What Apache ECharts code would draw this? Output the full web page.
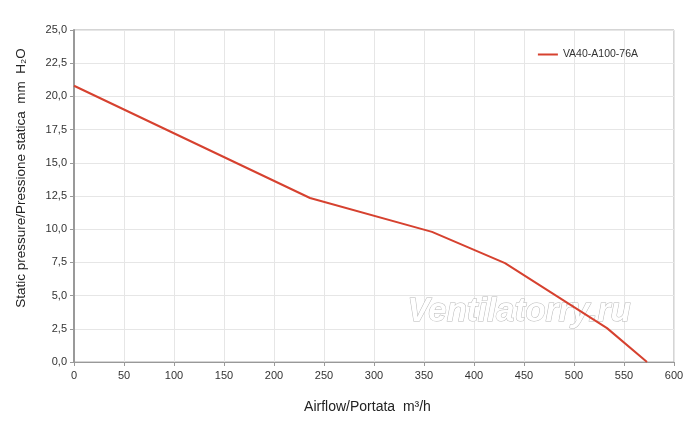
<!DOCTYPE html>
<html><head><meta charset="utf-8">
<script src="https://cdn.jsdelivr.net/npm/echarts@6/dist/echarts.min.js"></script>
<style>html,body{margin:0;padding:0;background:#fff}#c{width:700px;height:427px}</style>
</head><body><div id="c"></div>
<script>
const seriesName = 'VA40-A100-76A';
const airflow = [0, 236, 358, 431, 533, 573];
const pressure = [20.8, 12.35, 9.8, 7.45, 2.55, 0];
const xTicks = [0, 50, 100, 150, 200, 250, 300, 350, 400, 450, 500, 550, 600];
const yTicks = [0, 2.5, 5, 7.5, 10, 12.5, 15, 17.5, 20, 22.5, 25];
const xTitle = 'Airflow/Portata  m³/h';
const yTitle = 'Static pressure/Pressione statica  mm  H₂O';
const watermark = 'Ventilatorry.ru';

const chart = echarts.init(document.getElementById('c'), null, {renderer: 'canvas'});
const font = 'Liberation Sans, Arial, sans-serif';
chart.setOption({
  animation: false,
  backgroundColor: '#fff',
  grid: {left: 74, right: 26, top: 30, bottom: 65, show: true, borderColor: '#aaa', borderWidth: 1},
  legend: {
    right: 57, top: 44, itemWidth: 20, itemHeight: 2, itemGap: 4, icon: 'rect',
    textStyle: {fontFamily: font, fontSize: 10.5, color: '#333'},
    data: [seriesName]
  },
  xAxis: {
    type: 'value', min: xTicks[0], max: xTicks[xTicks.length - 1], interval: 50,
    name: xTitle, nameLocation: 'middle', nameGap: 38,
    nameTextStyle: {fontFamily: font, fontSize: 14, color: '#222', padding: [0, 13, 0, 0]},
    axisLine: {show: true, lineStyle: {color: '#999', width: 1}},
    axisTick: {show: true, length: 4, lineStyle: {color: '#999'}},
    axisLabel: {fontFamily: font, fontSize: 11, color: '#333', margin: 8},
    splitLine: {show: true, lineStyle: {color: '#e6e6e6'}}
  },
  yAxis: {
    type: 'value', min: yTicks[0], max: yTicks[yTicks.length - 1], interval: 2.5,
    axisLine: {show: true, lineStyle: {color: '#999', width: 2}},
    axisTick: {show: true, length: 4, lineStyle: {color: '#999'}},
    axisLabel: {fontFamily: font, fontSize: 11, color: '#333', margin: 7,
      formatter: v => v.toFixed(1).replace('.', ',')},
    splitLine: {show: true, lineStyle: {color: '#e6e6e6'}}
  },
  graphic: [{
    type: 'text', x: 21, y: 178, rotation: Math.PI / 2, z: 10, silent: true,
    style: {text: yTitle, font: '13.5px ' + font, fill: '#222', textAlign: 'center', textVerticalAlign: 'middle'}
  }, {
    type: 'text', left: 407, top: 295, z: 1, silent: true,
    style: {text: watermark, font: 'italic bold 33px ' + font, fill: '#fff', stroke: '#b8b8b8', lineWidth: 1}
  }],
  series: [{
    name: seriesName, type: 'line', z: 5,
    data: airflow.map((x, i) => [x, pressure[i]]),
    showSymbol: false, symbol: 'none',
    lineStyle: {color: '#d6412f', width: 2},
    itemStyle: {color: '#d6412f'}
  }]
});
</script></body></html>
